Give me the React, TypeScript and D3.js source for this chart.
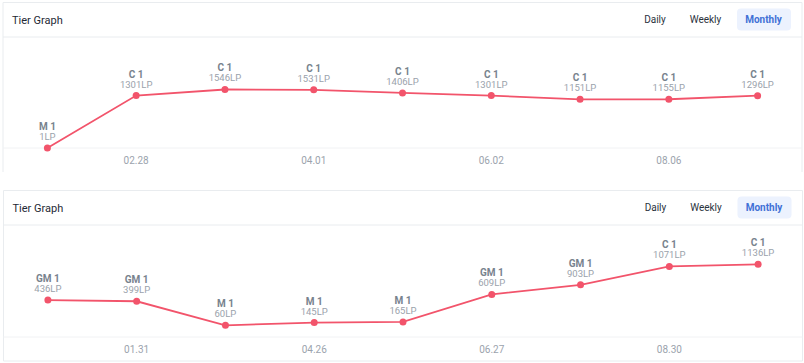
import React from 'react'
import * as d3 from 'd3'

// tier graph data (two cards)
const dates1 = ['01.30', '02.28', '03.30', '04.01', '05.02', '06.02', '07.04', '08.06', '09.05']
const tiers1 = ['M 1', 'C 1', 'C 1', 'C 1', 'C 1', 'C 1', 'C 1', 'C 1', 'C 1']
const lp1 = [1, 1301, 1546, 1531, 1406, 1301, 1151, 1155, 1296]

const dates2 = ['12.30', '01.31', '03.28', '04.26', '05.27', '06.27', '07.29', '08.30', '09.28']
const tiers2 = ['GM 1', 'GM 1', 'M 1', 'M 1', 'M 1', 'GM 1', 'GM 1', 'C 1', 'C 1']
const lp2 = [436, 399, 60, 145, 165, 609, 903, 1071, 1136]

// LP offset per tier so M / GM / C sit on one ladder
const tierBase: Record<string, number> = { 'M 1': 0, 'GM 1': 400, 'C 1': 800 }

const periods = ['Daily', 'Weekly', 'Monthly']

const FONT = 'Roboto, "Noto Sans", Arial, sans-serif'
const LINE = '#f2546b'

type CardProps = {
  x0: number
  y0: number
  width: number
  height: number
  dates: string[]
  tiers: string[]
  lps: number[]
  yDomain: [number, number]
  bottomBorder: boolean
}

const TierCard: React.FC<CardProps> = ({ x0, y0, width, height, dates, tiers, lps, yDomain, bottomBorder }) => {
  const headerH = 34.5
  const axisPad = 24
  const plotTop = y0 + headerH
  const axisY = y0 + height - axisPad

  const data = dates.map((d, i) => ({ date: d, tier: tiers[i], lp: lps[i], score: tierBase[tiers[i]] + lps[i] }))

  const x = d3.scalePoint<string>().domain(dates).range([x0, x0 + width]).padding(0.5)
  const y = d3.scaleLinear().domain(yDomain).range([axisY, plotTop])

  const line = d3
    .line<(typeof data)[number]>()
    .x((d) => x(d.date)!)
    .y((d) => y(d.score))

  const right = x0 + width
  const bottom = y0 + height
  const border = '#e9ecef'

  // buttons on the right of the header
  const btnCenters = [right - 147, right - 96.5, right - 38.5]

  return (
    <g>
      <path
        d={
          bottomBorder
            ? `M${x0},${y0}H${right}V${bottom}H${x0}Z`
            : `M${x0},${bottom}V${y0}H${right}V${bottom}`
        }
        fill="#fff"
        stroke={border}
      />
      <line x1={x0} x2={right} y1={plotTop} y2={plotTop} stroke={border} />
      <text x={x0 + 9} y={y0 + 21} fontSize={11} fill="#1f2a36" fontFamily={FONT}>
        Tier Graph
      </text>
      <rect x={right - 65} y={y0 + 6} width={54} height={22} rx={4} fill="#ecf2fe" />
      {periods.map((p, i) => (
        <text
          key={p}
          x={btnCenters[i]}
          y={y0 + 20.5}
          textAnchor="middle"
          fontSize={10}
          fontWeight={p === 'Monthly' ? 'bold' : 'normal'}
          fill={p === 'Monthly' ? '#4171d6' : '#2b333d'}
          fontFamily={FONT}
        >
          {p}
        </text>
      ))}

      <line x1={x0} x2={right} y1={axisY} y2={axisY} stroke="#f1f2f4" />
      {data.map((d, i) =>
        i % 2 === 1 ? (
          <text
            key={d.date}
            x={x(d.date)}
            y={axisY + 16}
            textAnchor="middle"
            fontSize={10}
            fill="#9ba3ad"
            fontFamily={FONT}
          >
            {d.date}
          </text>
        ) : null
      )}

      <path d={line(data) ?? ''} fill="none" stroke={LINE} strokeWidth={1.8} />
      {data.map((d) => (
        <g key={d.date}>
          <circle cx={x(d.date)} cy={y(d.score)} r={3.5} fill={LINE} />
          <text
            x={x(d.date)}
            y={y(d.score) - 18}
            textAnchor="middle"
            fontSize={10}
            fontWeight="bold"
            fill="#78838e"
            fontFamily={FONT}
          >
            {d.tier}
          </text>
          <text
            x={x(d.date)}
            y={y(d.score) - 8}
            textAnchor="middle"
            fontSize={9.5}
            fill="#9aa2ab"
            fontFamily={FONT}
          >
            {d.lp}LP
          </text>
        </g>
      ))}
    </g>
  )
}

const App: React.FC = () => {
  return (
    <svg
      width={804}
      height={363}
      style={{ position: 'absolute', left: 0, top: 0, background: '#fff' }}
    >
      <TierCard
        x0={3}
        y0={2.5}
        width={799}
        height={169.5}
        dates={dates1}
        tiers={tiers1}
        lps={lp1}
        yDomain={[0, 4450]}
        bottomBorder={false}
      />
      <TierCard
        x0={3.5}
        y0={190.5}
        width={799}
        height={170.5}
        dates={dates2}
        tiers={tiers2}
        lps={lp2}
        yDomain={[-300, 3144]}
        bottomBorder={true}
      />
    </svg>
  )
}

export default App
